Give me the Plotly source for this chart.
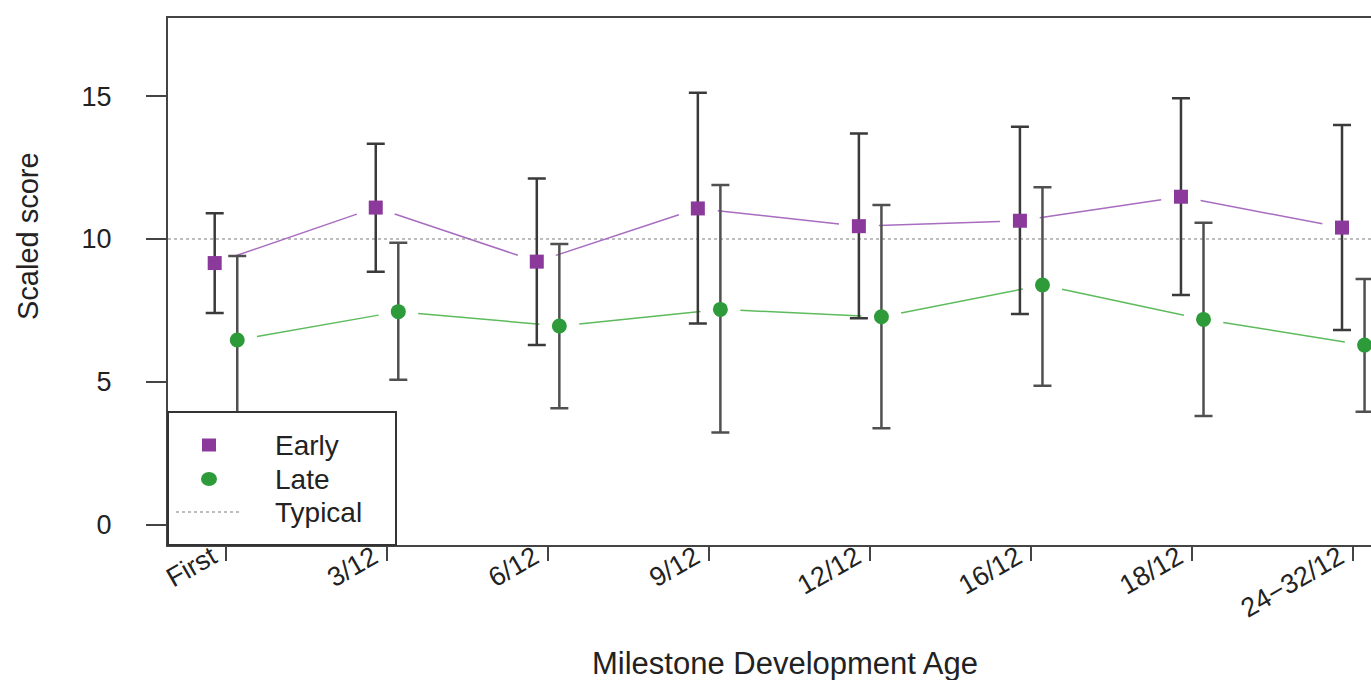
import math
import plotly.graph_objects as go

# ---- data ----
categories = ["First", "3/12", "6/12", "9/12", "12/12", "16/12", "18/12", "24\u221232/12"]
early_mean = [9.16, 11.10, 9.21, 11.07, 10.45, 10.64, 11.48, 10.40]
early_upper = [10.90, 13.33, 12.12, 15.12, 13.69, 13.93, 14.92, 13.99]
early_lower = [7.41, 8.86, 6.29, 7.05, 7.23, 7.38, 8.04, 6.82]
late_mean = [6.47, 7.46, 6.96, 7.54, 7.28, 8.39, 7.19, 6.29]
late_upper = [9.41, 9.87, 9.83, 11.89, 11.19, 11.81, 10.57, 8.60]
late_lower = [3.58, 5.08, 4.08, 3.23, 3.38, 4.87, 3.81, 3.96]
typical_value = 10
y_ticks = [0, 5, 10, 15]
legend_labels = ["Early", "Late", "Typical"]

# ---- layout constants ----
W, H = 1371, 680
ML, MR, MT, MB = 168, 0, 18, 135
PW, PH = W - ML - MR, H - MT - MB
X_RANGE = [0.64, 8.11]
Y_RANGE = [-0.70, 17.73]
OFFSET = 0.07
GAP_PX = 20
FONT = "Liberation Sans, Arial, Helvetica, sans-serif"
TXT = "#222222"

px_x = PW / (X_RANGE[1] - X_RANGE[0])
px_y = PH / (Y_RANGE[1] - Y_RANGE[0])

pos = list(range(1, len(categories) + 1))
early_x = [p - OFFSET for p in pos]
late_x = [p + OFFSET for p in pos]


def gapped(xs, ys, gap=GAP_PX):
    """Line segments between consecutive points, broken around each point (R type='b')."""
    gx, gy = [], []
    for i in range(len(xs) - 1):
        dx = (xs[i + 1] - xs[i]) * px_x
        dy = (ys[i + 1] - ys[i]) * px_y
        L = math.hypot(dx, dy)
        if L <= 2 * gap:
            continue
        f = gap / L
        gx += [xs[i] + f * (xs[i + 1] - xs[i]), xs[i + 1] - f * (xs[i + 1] - xs[i]), None]
        gy += [ys[i] + f * (ys[i + 1] - ys[i]), ys[i + 1] - f * (ys[i + 1] - ys[i]), None]
    return gx, gy


EARLY_C = "#8B3A9C"
EARLY_LINE = "#A86CC0"
LATE_C = "#2E9B3A"
LATE_LINE = "#5DBB5D"
TYP_C = "#bdbdbd"

fig = go.Figure()

# typical reference line
fig.add_trace(go.Scatter(
    x=X_RANGE, y=[typical_value, typical_value], mode="lines",
    line=dict(color=TYP_C, width=2, dash="dot"), showlegend=False, hoverinfo="skip"))

# connecting lines with gaps
ex, ey = gapped(early_x, early_mean)
fig.add_trace(go.Scatter(x=ex, y=ey, mode="lines", line=dict(color=EARLY_LINE, width=1.5),
                         showlegend=False, hoverinfo="skip"))
lx, ly = gapped(late_x, late_mean)
fig.add_trace(go.Scatter(x=lx, y=ly, mode="lines", line=dict(color=LATE_LINE, width=1.5),
                         showlegend=False, hoverinfo="skip"))

# points with error bars
fig.add_trace(go.Scatter(
    x=early_x, y=early_mean, mode="markers", name="Early", showlegend=False,
    marker=dict(symbol="square", size=14, color=EARLY_C),
    error_y=dict(type="data", symmetric=False,
                 array=[u - m for u, m in zip(early_upper, early_mean)],
                 arrayminus=[m - l for m, l in zip(early_mean, early_lower)],
                 color="#3a3a3a", thickness=2.5, width=9)))
fig.add_trace(go.Scatter(
    x=late_x, y=late_mean, mode="markers", name="Late", showlegend=False,
    marker=dict(symbol="circle", size=15, color=LATE_C),
    error_y=dict(type="data", symmetric=False,
                 array=[u - m for u, m in zip(late_upper, late_mean)],
                 arrayminus=[m - l for m, l in zip(late_mean, late_lower)],
                 color="#505050", thickness=2.5, width=9)))

# ---- manual legend (R-style boxed legend in the bottom-left corner) ----
def px2paper_x(px):
    return (px - ML) / PW


def px2paper_y(py):
    return (H - MB - py) / PH


box_x1 = px2paper_x(396)
box_y1 = px2paper_y(412)
key_x = px2paper_x(209)
text_x = px2paper_x(273)
row_y = [px2paper_y(v) for v in (445, 479, 512)]

shapes = [
    dict(type="rect", xref="paper", yref="paper", x0=0, x1=box_x1, y0=0, y1=box_y1,
         fillcolor="white", line=dict(color="#333333", width=2), layer="above"),
    dict(type="rect", xref="paper", yref="paper", xsizemode="pixel", ysizemode="pixel",
         xanchor=key_x, yanchor=row_y[0], x0=-7, x1=7, y0=-6.5, y1=6.5,
         fillcolor=EARLY_C, line=dict(width=0), layer="above"),
    dict(type="circle", xref="paper", yref="paper", xsizemode="pixel", ysizemode="pixel",
         xanchor=key_x, yanchor=row_y[1], x0=-8, x1=8, y0=-7, y1=7,
         fillcolor=LATE_C, line=dict(width=0), layer="above"),
    dict(type="line", xref="paper", yref="paper", x0=px2paper_x(176), x1=px2paper_x(242),
         y0=row_y[2], y1=row_y[2], line=dict(color=TYP_C, width=2, dash="dot"), layer="above"),
]

annotations = [
    dict(text=lab, xref="paper", yref="paper", x=text_x, y=yy, xanchor="left", yanchor="middle",
         showarrow=False, font=dict(size=28, family=FONT, color=TXT))
    for lab, yy in zip(legend_labels, row_y)
]
annotations.append(dict(text="Milestone Development Age", xref="paper", yref="paper",
                        x=px2paper_x(785), y=0, yshift=-118, xanchor="center", yanchor="middle",
                        showarrow=False, font=dict(size=31, family=FONT, color=TXT)))
annotations.append(dict(text="Scaled score", xref="paper", yref="paper", textangle=-90,
                        x=px2paper_x(28), y=px2paper_y(236), xanchor="center", yanchor="middle",
                        showarrow=False, font=dict(size=29, family=FONT, color=TXT)))

fig.update_layout(
    width=W, height=H,
    margin=dict(l=ML, r=MR, t=MT, b=MB, autoexpand=False),
    paper_bgcolor="white", plot_bgcolor="white",
    font=dict(family=FONT, color=TXT, size=25),
    showlegend=False,
    xaxis=dict(range=X_RANGE, tickmode="array", tickvals=pos, ticktext=categories,
               tickangle=-30, ticks="outside", ticklen=14, tickwidth=1.5, tickcolor="#444444",
               ticklabelstandoff=-30, ticklabelshift=-14,
               showline=True, linecolor="#444444", linewidth=2, mirror=True,
               showgrid=False, zeroline=False, automargin=False, tickfont=dict(size=27)),
    yaxis=dict(range=Y_RANGE, tickmode="array", tickvals=y_ticks,
               ticks="outside", ticklen=20, tickwidth=1.5, tickcolor="#444444",
               ticklabelstandoff=29,
               showline=True, linecolor="#444444", linewidth=2, mirror=False,
               showgrid=False, zeroline=False, automargin=False, tickfont=dict(size=27)),
    shapes=shapes,
    annotations=annotations,
)

fig.write_html("out.html", config={"displayModeBar": False},
               post_script="document.body.style.margin='0px';")
